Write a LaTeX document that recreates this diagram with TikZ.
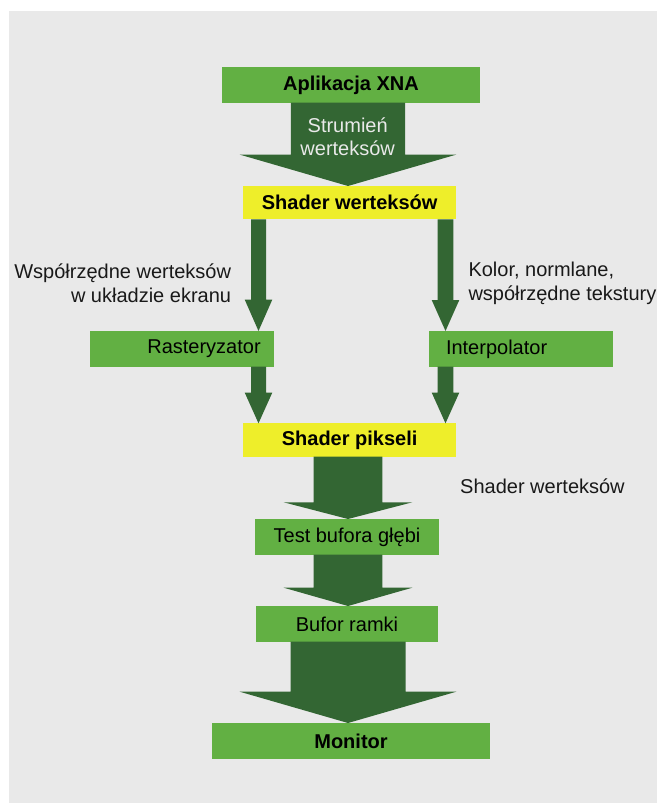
\documentclass[tikz,border=0pt]{standalone}
\usepackage{fontspec}
\setmainfont{Liberation Sans}
\usetikzlibrary{calc}
\definecolor{bggray}{HTML}{E9E9E9}
\definecolor{lgreen}{HTML}{62B043}
\definecolor{dgreen}{HTML}{336633}
\definecolor{yel}{HTML}{EEEE2A}
\tikzset{
  box/.style={rectangle, inner sep=0pt, outer sep=0pt, font=\fontsize{20}{23}\selectfont, text=black},
  gbox/.style={box, fill=lgreen},
  ybox/.style={box, fill=yel},
  bold/.style={font=\fontsize{20}{23}\selectfont\bfseries},
  lbl/.style={inner sep=0pt, font=\fontsize{20}{24}\selectfont, text=black!90},
}
% #1 from node, #2 to node, #3 x centre, #4 shaft half width, #5 head half width, #6 head length
\newcommand\blockarr[6]{%
  \fill[dgreen] let \p1=(#1.south), \p2=(#2.north) in
    ({(#3-#4)*1pt},\y1) -- ({(#3+#4)*1pt},\y1) -- ({(#3+#4)*1pt},{\y2+#6pt}) --
    ({(#3+#5)*1pt},{\y2+#6pt}) -- ({#3*1pt},\y2) -- ({(#3-#5)*1pt},{\y2+#6pt}) --
    ({(#3-#4)*1pt},{\y2+#6pt}) -- cycle;}
\begin{document}
\begin{tikzpicture}[x=1pt,y=-1pt]
\useasboundingbox (0,0) rectangle (657,803);
\fill[bggray] (9,11) rectangle (657,803);
% boxes
\node[gbox, bold, minimum width=258pt, minimum height=35.7pt] (app) at (351,84.85) {Aplikacja XNA};
\node[ybox, bold, minimum width=212.7pt, minimum height=33.3pt] (shv) at (349.65,202.65) {Shader werteksów};
\node[gbox, minimum width=184pt, minimum height=35.7pt, inner xsep=13.3pt, text width=157.4pt, align=right] (rast) at (182,348.85) {Rasteryzator};
\node[gbox, minimum width=184pt, minimum height=35.7pt, inner xsep=17pt, text width=150pt, align=left] (interp) at (521,348.85) {Interpolator};
\node[ybox, bold, minimum width=212.7pt, minimum height=33.4pt] (shp) at (349.65,440) {Shader pikseli};
\node[gbox, minimum width=184pt, minimum height=35.7pt] (depth) at (347,536.85) {Test bufora głębi};
\node[gbox, minimum width=182pt, minimum height=35.7pt] (frame) at (347,623.85) {Bufor ramki};
\node[gbox, bold, minimum width=278pt, minimum height=35.7pt] (mon) at (351,740.85) {Monitor};
% arrows
\blockarr{app}{shv}{348}{57.2}{108.3}{31.4}
\blockarr{shv}{rast}{258.5}{7.5}{13.8}{31.4}
\blockarr{rast}{shp}{258.5}{7.5}{13.8}{30.7}
\blockarr{shv}{interp}{445.5}{7.8}{13.8}{31}
\blockarr{interp}{shp}{445.5}{7.8}{13.8}{30.7}
\blockarr{shp}{depth}{348}{34.3}{64.3}{16.7}
\blockarr{depth}{frame}{348}{34.3}{64.3}{18.3}
\blockarr{frame}{mon}{348}{57.5}{108.3}{31.3}
% labels
\node[lbl, align=center, text=bggray, font=\fontsize{20}{23}\selectfont] (stream) at (347.7,136.5) {Strumień\\werteksów};
\node[lbl, align=right, anchor=east] (coordl) at (231.3,283) {Współrzędne werteksów\\w układzie ekranu};
\node[lbl, align=left, anchor=west] (colr) at (468.3,283) {Kolor, normlane,\\współrzędne tekstury};
\node[lbl, anchor=west] (shw) at (460,486.7) {Shader werteksów};
\end{tikzpicture}
\end{document}
